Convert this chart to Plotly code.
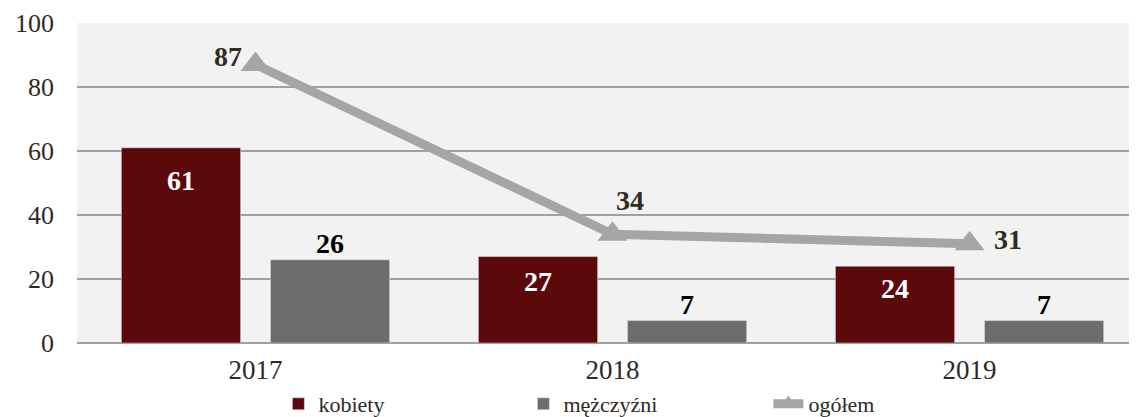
import plotly.graph_objects as go

years = ['2017', '2018', '2019']
kobiety = [61, 27, 24]
mezczyzni = [26, 7, 7]
ogolem = [87, 34, 31]

serif = 'Liberation Serif'

fig = go.Figure()

fig.add_trace(go.Bar(x=years, y=kobiety, name='kobiety', marker_color='#5c090b'))
fig.add_trace(go.Bar(x=years, y=mezczyzni, name='mężczyźni', marker_color='#6d6d6d'))
fig.add_trace(go.Scatter(
    x=years, y=ogolem, name='ogółem', mode='lines+markers',
    line=dict(color='#a5a5a5', width=9),
    marker=dict(symbol='triangle-up', size=26, color='#a5a5a5'),
    cliponaxis=False))

lab = dict(family=serif, size=28, weight='bold')

# data labels (x given as category index, the year strings look numeric)
for i, (v, dy) in enumerate(zip(kobiety, [-33, -25, -22])):
    fig.add_annotation(x=i, y=v, text=str(v), showarrow=False, xshift=-74.5, yshift=dy,
                       font=dict(lab, color='white'))
for i, v in enumerate(mezczyzni):
    fig.add_annotation(x=i, y=v, text=str(v), showarrow=False, xshift=74.5, yshift=16,
                       font=dict(lab, color='black'))
for i, (v, dx, dy) in enumerate(zip(ogolem, [-28, 17, 38], [8, 34, 4])):
    fig.add_annotation(x=i, y=v, text=str(v), showarrow=False, xshift=dx, yshift=dy,
                       font=dict(lab, color='#332c20'))

# page body has an 8px margin, so the figure is shifted by that much
fig.update_layout(
    width=1129, height=409,
    margin=dict(l=69, r=0, t=15, b=74, autoexpand=False),
    paper_bgcolor='white', plot_bgcolor='#f2f2f2',
    barmode='group', bargap=0.165, bargroupgap=0.2,
    font=dict(family=serif, size=26, color='#2e2a24'),
    showlegend=True,
    legend=dict(orientation='h', x=0.19, xanchor='left', y=-0.125, yanchor='top',
                bgcolor='rgba(0,0,0,0)', entrywidth=200, font=dict(family=serif, size=22)),
    xaxis=dict(type='category', range=[-0.5, 2.469], showgrid=False, ticks='', automargin=False,
               ticklabelstandoff=8, tickfont=dict(size=27)),
    yaxis=dict(range=[0, 100], dtick=20, showgrid=True, gridcolor='#a0a0a0', gridwidth=1.5,
               zeroline=True, zerolinecolor='#a0a0a0', zerolinewidth=1.5, automargin=False,
               ticks='', ticklabelstandoff=22, tickfont=dict(size=26)),
)

fig.write_html('out.html')
